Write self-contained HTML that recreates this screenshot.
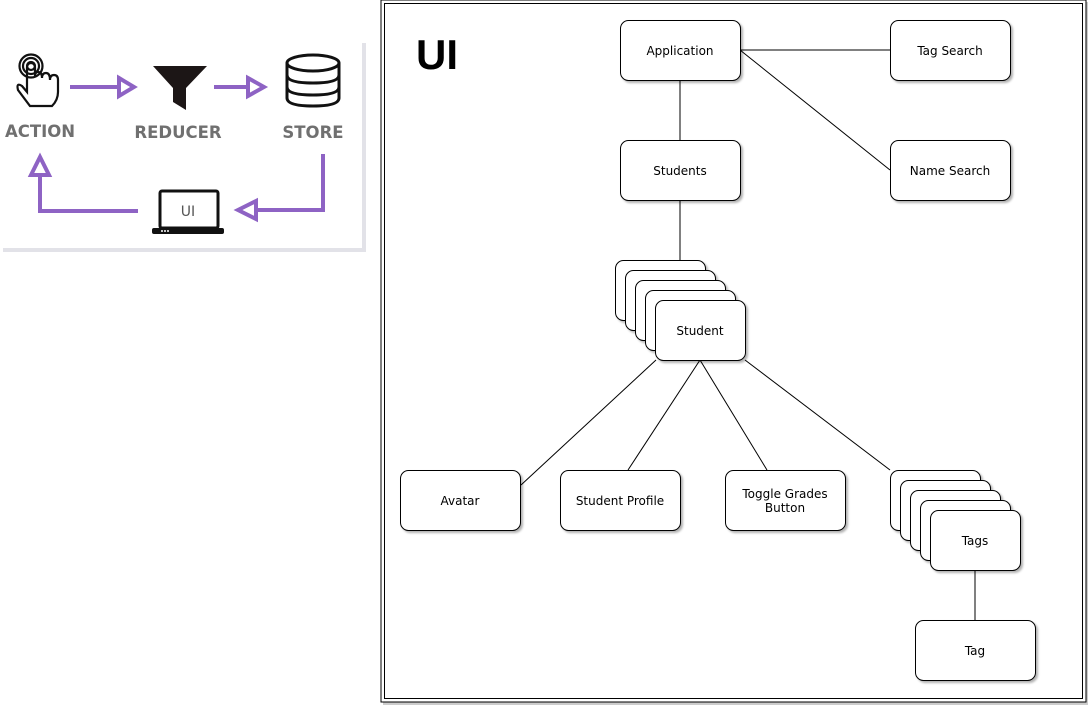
<!DOCTYPE html>
<html><head><meta charset="utf-8"><style>
html,body{margin:0;padding:0;background:#fff;width:1092px;height:712px;overflow:hidden}
svg{display:block}
text{font-family:"DejaVu Sans","Liberation Sans",sans-serif}
</style></head><body>
<svg width="1092" height="712" viewBox="0 0 1092 712" xmlns="http://www.w3.org/2000/svg">
<defs>
<filter id="sh" x="-10%" y="-10%" width="130%" height="130%"><feDropShadow dx="2" dy="2" stdDeviation="1" flood-color="#000" flood-opacity="0.3"/></filter>
</defs>
<!-- left panel -->
<rect x="3" y="43" width="363" height="209" fill="#e2e2e8"/>
<rect x="0" y="40" width="362" height="208" fill="#fff"/>
<g stroke="#8e63c4" stroke-width="4" fill="none">
<line x1="70" y1="87" x2="122" y2="87"/>
<polygon points="119,78 134,87 119,96" fill="#fff"/>
<line x1="214" y1="87" x2="252" y2="87"/>
<polygon points="248,78 264,87 248,96" fill="#fff"/>
<polyline points="323,154 323,210 253,210"/>
<polygon points="256,201 238,210 256,219" fill="#fff"/>
<polyline points="138,211 40,211 40,172"/>
<polygon points="31,175 40,157 49,175" fill="#fff"/>
</g>
<!-- hand -->
<g stroke="#111" stroke-width="2.2" fill="none">
<circle cx="31" cy="66" r="4"/><circle cx="31" cy="66" r="8"/><circle cx="31" cy="66" r="11.5"/>
<path d="M27 68 V92 L22 86 Q16 82 18 90 L30 106 H52 Q58 100 58 92 V80 Q58 75 54 75 Q50 75 50 80 Q50 73 46 73 Q42 73 42 78 Q42 72 38 72 Q35 72 35 76 V68 Q35 63 31 63 Q27 63 27 68"/>
</g>
<!-- funnel -->
<polygon points="153,66 207,66 186,88 186,110 173,102 173,88" fill="#1c1616"/>
<!-- database -->
<g stroke="#111" stroke-width="3" fill="#fff">
<path d="M287 63 V98 Q287 106 313 106 Q339 106 339 98 V63"/>
<path d="M287 75 Q287 83 313 83 Q339 83 339 75"/>
<path d="M287 87 Q287 95 313 95 Q339 95 339 87"/>
<ellipse cx="313" cy="63" rx="26" ry="8"/>
</g>
<!-- laptop -->
<rect x="160" y="191" width="58" height="37" rx="2" fill="#fff" stroke="#111" stroke-width="3"/>
<rect x="152" y="228" width="72" height="6" rx="2" fill="#111"/>
<g fill="#fff"><circle cx="162" cy="231" r="1"/><circle cx="165" cy="231" r="1"/><circle cx="168" cy="231" r="1"/></g>
<text x="188" y="216" font-size="14" fill="#555" text-anchor="middle">UI</text>
<g font-size="16.5" font-weight="bold" fill="#707070" text-anchor="middle">
<text x="40" y="137">ACTION</text>
<text x="178" y="138">REDUCER</text>
<text x="313" y="138">STORE</text>
</g>
<!-- right frame -->
<rect x="383" y="2" width="705" height="703" fill="#ccc"/>
<rect x="381" y="0" width="705" height="702" fill="#fff" stroke="#000" stroke-width="1"/>
<rect x="384.5" y="3.5" width="698" height="695" fill="none" stroke="#000" stroke-width="1"/>
<text x="416" y="69" font-size="42" font-weight="bold" fill="#000" style="font-family:'Liberation Sans',sans-serif">UI</text>
<!-- lines -->
<g stroke="#000" stroke-width="1">
<line x1="680" y1="80" x2="680" y2="140"/>
<line x1="740" y1="50" x2="890" y2="50"/>
<line x1="740" y1="50" x2="890" y2="170"/>
<line x1="680" y1="200" x2="680" y2="260"/>
<line x1="656" y1="360" x2="521" y2="485"/>
<line x1="700" y1="360" x2="628" y2="470"/>
<line x1="700" y1="360" x2="767" y2="470"/>
<line x1="745" y1="360" x2="890" y2="470"/>
<line x1="975" y1="570" x2="975" y2="620"/>
</g>
<g fill="#fff" stroke="#000" stroke-width="1" filter="url(#sh)">
<rect x="620.5" y="20.5" width="120" height="60" rx="8"/>
<rect x="890.5" y="20.5" width="120" height="60" rx="8"/>
<rect x="620.5" y="140.5" width="120" height="60" rx="8"/>
<rect x="890.5" y="140.5" width="120" height="60" rx="8"/>
<rect x="615.5" y="260.5" width="90" height="60" rx="8"/>
<rect x="625.5" y="270.5" width="90" height="60" rx="8"/>
<rect x="635.5" y="280.5" width="90" height="60" rx="8"/>
<rect x="645.5" y="290.5" width="90" height="60" rx="8"/>
<rect x="655.5" y="300.5" width="90" height="60" rx="8"/>
<rect x="400.5" y="470.5" width="120" height="60" rx="8"/>
<rect x="560.5" y="470.5" width="120" height="60" rx="8"/>
<rect x="725.5" y="470.5" width="120" height="60" rx="8"/>
<rect x="890.5" y="470.5" width="90" height="60" rx="8"/>
<rect x="900.5" y="480.5" width="90" height="60" rx="8"/>
<rect x="910.5" y="490.5" width="90" height="60" rx="8"/>
<rect x="920.5" y="500.5" width="90" height="60" rx="8"/>
<rect x="930.5" y="510.5" width="90" height="60" rx="8"/>
<rect x="915.5" y="620.5" width="120" height="60" rx="8"/>
</g>
<g font-size="12" fill="#000" text-anchor="middle">
<text x="680" y="55">Application</text>
<text x="950" y="55">Tag Search</text>
<text x="680" y="175">Students</text>
<text x="950" y="175">Name Search</text>
<text x="700" y="335">Student</text>
<text x="460" y="505">Avatar</text>
<text x="620" y="505">Student Profile</text>
<text x="785" y="498">Toggle Grades</text>
<text x="785" y="512">Button</text>
<text x="975" y="545">Tags</text>
<text x="975" y="655">Tag</text>
</g>
</svg>
</body></html>
